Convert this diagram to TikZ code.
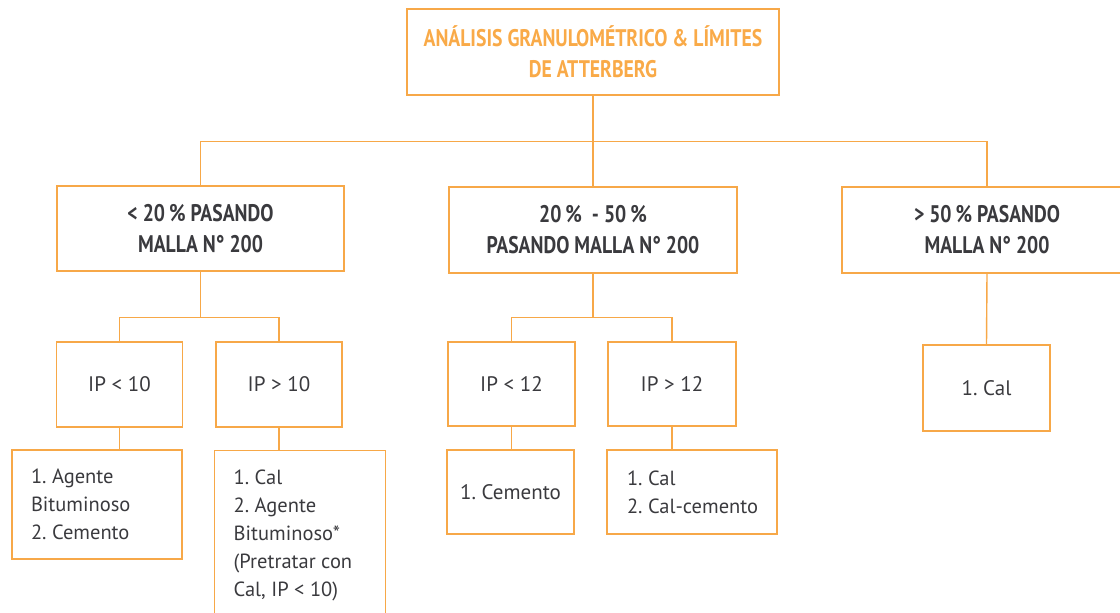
\documentclass[tikz,border=0pt]{standalone}
\usepackage{fontspec}
\setmainfont{PT Sans}
\newfontfamily\headfont[FakeStretch=0.82]{PT Sans}
\definecolor{lineor}{RGB}{247,168,72}
\definecolor{titleor}{RGB}{249,170,72}
\definecolor{txt}{RGB}{58,58,62}
\tikzset{
  box/.style={draw=lineor, line width=1.4pt, inner sep=0pt, text=txt},
  head/.style={box, align=center, font=\headfont\bfseries\fontsize{24}{31}\selectfont},
  cond/.style={box, align=center, font=\frenchspacing\fontsize{21}{28}\selectfont},
  list/.style={box, align=flush left, inner xsep=19pt, font=\frenchspacing\fontsize{20.5}{28}\selectfont},
  conn/.style={draw=lineor, line width=1.4pt}
}
\begin{document}
\begin{tikzpicture}[x=1pt,y=-1pt]
\useasboundingbox (0,0) rectangle (1120,613);
\clip (0,0) rectangle (1120,613);
% level 1
\node[head, text=titleor, minimum width=372, minimum height=86] (top) at (593,52)
  {ANÁLISIS GRANULOMÉTRICO \& LÍMITES\\DE ATTERBERG};
% level 2
\node[head, minimum width=287, minimum height=85] (a) at (200.5,228.5)
  {< 20\,\% PASANDO\\MALLA N° 200};
\node[head, minimum width=288, minimum height=86] (b) at (593,230)
  {20\,\% \ - 50\,\%\\PASANDO MALLA N° 200};
\node[head, minimum width=290, minimum height=86] (c) at (987,230)
  {> 50\,\% PASANDO\\MALLA N° 200};
% level 3
\node[cond, minimum width=126, minimum height=85] (a1) at (119.5,384.5) {IP < 10};
\node[cond, minimum width=126, minimum height=85] (a2) at (279,384.5) {IP > 10};
\node[cond, minimum width=127, minimum height=84] (b1) at (511.5,384) {IP < 12};
\node[cond, minimum width=128, minimum height=84] (b2) at (672,384) {IP > 12};
\node[cond, minimum width=127, minimum height=86] (c1) at (986.5,388) {1. Cal};
% level 4
\node[list, text width=132, minimum height=109] (a1x) at (97,504.5)
  {1. Agente\\Bituminoso\\2. Cemento};
\node[list, text width=133, minimum height=169, anchor=north west] (a2x) at (214,450)
  {1. Cal\\2. Agente\\Bituminoso*\\(Pretratar con\\Cal, IP < 10)};
\node[cond, minimum width=127, minimum height=84] (b1x) at (510.5,492) {1. Cemento};
\node[list, inner xsep=20pt, text width=130, minimum height=84] (b2x) at (692,492)
  {1. Cal\\\mbox{2. Cal-cemento}};
% connectors
\draw[conn] (top.south) -- ++(0,46) coordinate (bus0);
\draw[conn] (a.north) |- (bus0) -| (c.north);
\draw[conn] (bus0) -- (b.north);
\draw[conn] (a.south) -- ++(0,46) coordinate (busa);
\draw[conn] (a1.north) |- (busa) -| (a2.north);
\draw[conn] (b.south) -- ++(0,44) coordinate (busb);
\draw[conn] (b1.north) |- (busb) -| (b2.north);
\draw[conn] (c.south) -- (c1.north);
\draw[conn] (a1.south) -- (a1.south |- a1x.north);
\draw[conn] (a2.south) -- (a2.south |- a2x.north);
\draw[conn] (b1.south) -- (b1.south |- b1x.north);
\draw[conn] (b2.south) -- (b2.south |- b2x.north);
\end{tikzpicture}
\end{document}
